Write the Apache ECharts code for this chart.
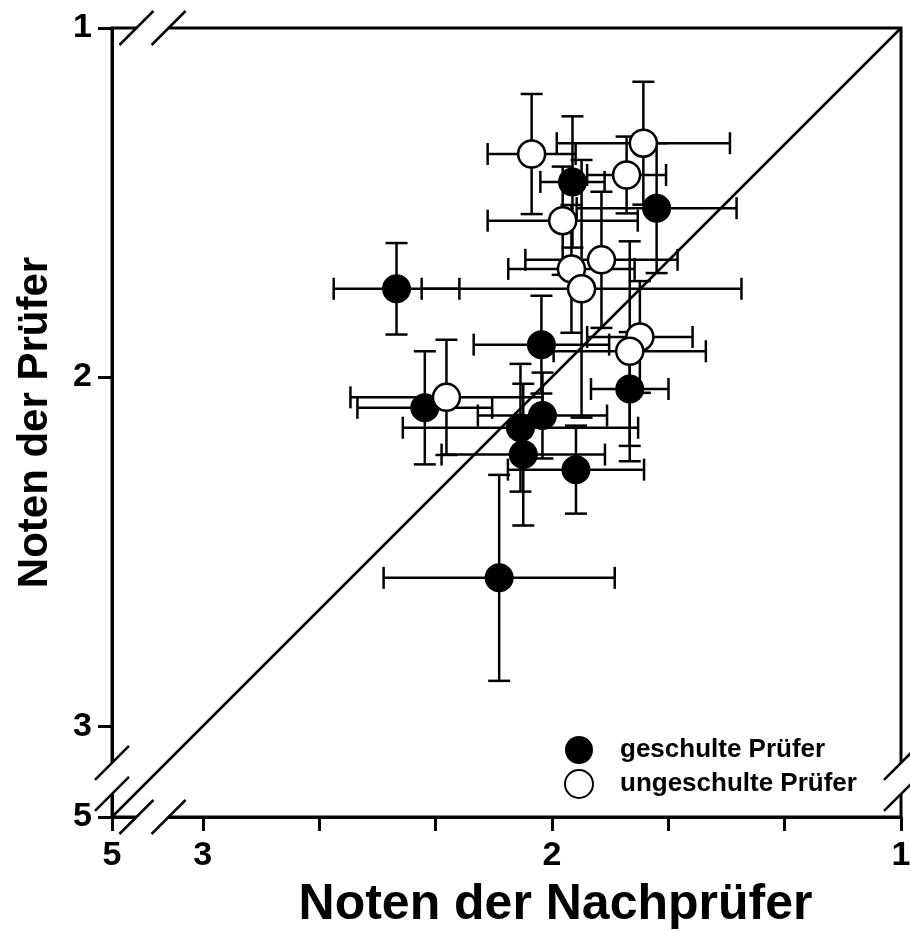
<!DOCTYPE html>
<html>
<head>
<meta charset="utf-8">
<title>Noten der Prüfer / Nachprüfer</title>
<script src="https://cdn.jsdelivr.net/npm/echarts@6.0.0/dist/echarts.min.js"></script>
<style>
  html, body { margin: 0; padding: 0; background: #fff; }
  #main { width: 910px; height: 931px; }
</style>
</head>
<body>
<div id="main"></div>
<script>
// axis range: the far end stands for grade 5 (behind the axis break)
const axisMin = 1
const axisMax = 3.26
const xTickValues = [axisMax, 3, 8 / 3, 7 / 3, 2, 5 / 3, 4 / 3, 1]
const xLabelValues = [axisMax, 3, 2, 1]
const yTickValues = [1, 2, 3, axisMax]
const breakLabel = '5'
const xBreaks = [3.19, 3.098]
const yBreaks = [3.105, 3.194]

// geschulte Prüfer
const geschNach = [1.941, 1.700, 2.445, 2.030, 1.777, 2.364, 2.027, 2.090, 2.082, 1.931, 2.151]
const geschPruef = [1.441, 1.516, 1.747, 1.907, 2.034, 2.088, 2.110, 2.145, 2.222, 2.265, 2.575]
const geschNachErr = [0.092, 0.229, 0.180, 0.194, 0.111, 0.193, 0.185, 0.337, 0.234, 0.195, 0.331]
const geschPruefErr = [0.188, 0.186, 0.131, 0.140, 0.163, 0.162, 0.123, 0.183, 0.203, 0.126, 0.295]

// ungeschulte Prüfer
const ungNach = [2.058, 1.738, 1.786, 1.969, 1.858, 1.944, 1.915, 1.748, 1.777, 2.302]
const ungPruef = [1.361, 1.330, 1.421, 1.552, 1.664, 1.690, 1.747, 1.885, 1.926, 2.058]
const ungNachErr = [0.126, 0.248, 0.113, 0.215, 0.218, 0.181, 0.458, 0.151, 0.218, 0.275]
const ungPruefErr = [0.172, 0.176, 0.110, 0.155, 0.195, 0.183, 0.369, 0.160, 0.315, 0.165]

const FONT = 'Liberation Sans'
const chart = echarts.init(document.getElementById('main'))

function pts(xs, ys) {
  return xs.map((x, i) => [x, ys[i]])
}
function errs(xs, ys, ex, ey) {
  return xs.map((x, i) => [x, ys[i], ex[i], ey[i]])
}

// Fehlerbalken mit Endstrichen
function renderErr(params, api) {
  const x = api.value(0), y = api.value(1), ex = api.value(2), ey = api.value(3)
  const l = api.coord([x + ex, y]), r = api.coord([x - ex, y])
  const t = api.coord([x, y - ey]), b = api.coord([x, y + ey])
  const c = 11
  const st = { stroke: '#000', lineWidth: 2.5 }
  const seg = (x1, y1, x2, y2) => ({ type: 'line', shape: { x1, y1, x2, y2 }, style: st })
  return {
    type: 'group',
    children: [
      seg(l[0], l[1], r[0], r[1]),
      seg(l[0], l[1] - c, l[0], l[1] + c),
      seg(r[0], r[1] - c, r[0], r[1] + c),
      seg(t[0], t[1], b[0], b[1]),
      seg(t[0] - c, t[1], t[0] + c, t[1]),
      seg(b[0] - c, b[1], b[0] + c, b[1])
    ]
  }
}

const labelFmt = v => (v > 3.1 ? breakLabel : String(Math.round(v)))

const option = {
  animation: false,
  backgroundColor: '#fff',
  grid: {
    left: 112, right: 9, top: 28, bottom: 114,
    show: true, borderColor: '#000', borderWidth: 3,
    outerBoundsMode: 'none'
  },
  legend: {
    data: ['geschulte Prüfer', 'ungeschulte Prüfer'],
    orient: 'vertical',
    left: 559, top: 731,
    itemWidth: 28, itemHeight: 28, itemGap: 5,
    icon: 'circle',
    textStyle: { fontFamily: FONT, fontWeight: 'bold', fontSize: 26, color: '#000', padding: [0, 0, 0, 22] }
  },
  xAxis: {
    type: 'value', inverse: true, min: axisMin, max: axisMax,
    name: 'Noten der Nachprüfer', nameLocation: 'middle', nameGap: 63,
    nameTextStyle: { fontFamily: FONT, fontWeight: 'bold', fontSize: 50, color: '#000', padding: [0, 0, 0, 98] },
    splitLine: { show: false },
    axisLine: { lineStyle: { color: '#000', width: 3 } },
    axisTick: { customValues: xTickValues, length: 14, lineStyle: { color: '#000', width: 3 } },
    axisLabel: { customValues: xLabelValues, formatter: labelFmt, margin: 22,
      fontFamily: FONT, fontWeight: 'bold', fontSize: 34, color: '#000' }
  },
  yAxis: {
    type: 'value', inverse: true, min: axisMin, max: axisMax,
    name: 'Noten der Prüfer', nameLocation: 'middle', nameGap: 56, nameRotate: 90,
    nameTextStyle: { fontFamily: FONT, fontWeight: 'bold', fontSize: 42, color: '#000' },
    splitLine: { show: false },
    axisLine: { lineStyle: { color: '#000', width: 3 } },
    axisTick: { customValues: yTickValues, length: 14, lineStyle: { color: '#000', width: 3 } },
    axisLabel: { customValues: yTickValues, formatter: labelFmt, margin: 20,
      fontFamily: FONT, fontWeight: 'bold', fontSize: 34, color: '#000' }
  },
  series: [
    {
      type: 'line', name: 'diagonale', silent: true, symbol: 'none', z: 1,
      data: [[axisMax, axisMax], [axisMin, axisMin]],
      lineStyle: { color: '#000', width: 2.5 }
    },
    {
      type: 'custom', name: 'err-gesch', renderItem: renderErr, z: 2, silent: true,
      encode: { x: 0, y: 1 },
      data: errs(geschNach, geschPruef, geschNachErr, geschPruefErr)
    },
    {
      type: 'custom', name: 'err-ung', renderItem: renderErr, z: 2, silent: true,
      encode: { x: 0, y: 1 },
      data: errs(ungNach, ungPruef, ungNachErr, ungPruefErr)
    },
    {
      type: 'scatter', name: 'geschulte Prüfer', z: 3, symbolSize: 29,
      itemStyle: { color: '#000', opacity: 1 },
      data: pts(geschNach, geschPruef)
    },
    {
      type: 'scatter', name: 'ungeschulte Prüfer', z: 3, symbolSize: 27,
      itemStyle: { color: '#fff', borderColor: '#000', borderWidth: 2.5, opacity: 1 },
      data: pts(ungNach, ungPruef)
    }
  ]
}
chart.setOption(option)

// Achsenbruch: Lücken + Doppelstriche
function breakMarks() {
  const rect = chart.getModel().getComponent('grid').coordinateSystem.getRect()
  const els = []
  const h = 17
  const slash = (cx, cy) => ({
    type: 'line', z: 100,
    shape: { x1: cx - h, y1: cy + h, x2: cx + h, y2: cy - h },
    style: { stroke: '#000', lineWidth: 2.5 }
  })
  const xs = xBreaks.map(v => chart.convertToPixel({ xAxisIndex: 0 }, v))
  const ys = yBreaks.map(v => chart.convertToPixel({ yAxisIndex: 0 }, v))
  const top = rect.y, bottom = rect.y + rect.height
  const left = rect.x, right = rect.x + rect.width
  // horizontale Linien (oben und unten)
  ;[top, bottom].forEach(yy => {
    els.push({ type: 'rect', z: 99, shape: { x: xs[0], y: yy - 6, width: xs[1] - xs[0], height: 12 }, style: { fill: '#fff' } })
    xs.forEach(xx => els.push(slash(xx, yy)))
  })
  // vertikale Linien (links und rechts)
  ;[left, right].forEach(xx => {
    els.push({ type: 'rect', z: 99, shape: { x: xx - 6, y: ys[0], width: 12, height: ys[1] - ys[0] }, style: { fill: '#fff' } })
    ys.forEach(yy => els.push(slash(xx, yy)))
  })
  chart.setOption({ graphic: els })
}
breakMarks()
</script>
</body>
</html>
